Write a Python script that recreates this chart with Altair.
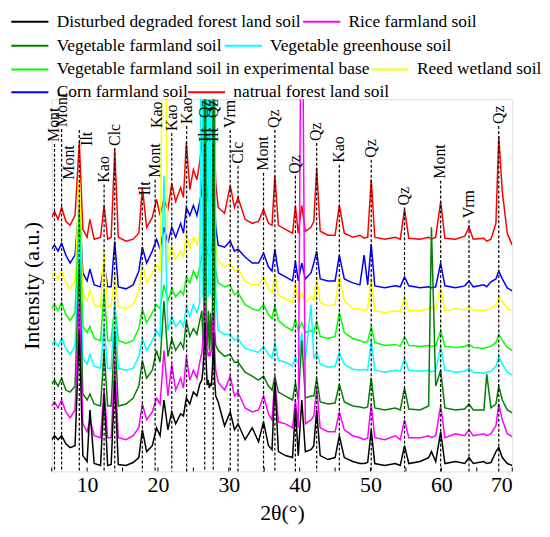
import altair as alt
import pandas as pd

# ---------------- data ----------------
two_theta = [
    5.0, 5.4, 5.9, 6.4, 7.0, 7.6, 8.3, 8.9, 9.4, 10.0,
    10.4, 11.0, 11.9, 12.4, 12.9, 13.4, 13.9, 14.4, 15.5, 16.5,
    17.3, 17.8, 18.4, 19.2, 19.8, 20.3, 20.85, 21.4, 21.95, 22.5,
    23.2, 23.6, 24.0, 24.5, 25.0, 25.5, 25.9,
    26.2, 26.35, 26.5, 26.65, 26.8, 26.95, 27.1, 27.25, 27.4, 27.55, 27.7, 27.85, 28.0, 28.15,
    28.5, 29.4, 30.2, 30.8, 31.3, 32.3, 33.3, 34.2, 34.9, 35.6,
    36.1, 36.5, 37.0, 38.0, 39.0, 39.4, 39.8, 40.3, 40.8, 41.6,
    42.0, 42.4, 42.9, 44.0, 45.0, 45.6, 46.3, 47.5, 48.5, 49.1,
    49.6, 50.1, 50.6, 52.0, 53.5, 54.2, 54.8, 55.4, 57.0, 58.2,
    58.6, 59.2, 59.9, 60.5, 62.0, 63.3, 63.9, 64.5, 66.0, 66.4,
    67.0, 67.7, 68.1, 68.6, 69.3, 70.0,
]

natural_forest = [
    256, 262, 254, 266, 252, 248, 258, 332, 244, 236,
    254, 234, 236, 268, 234, 236, 324, 236, 232, 234,
    240, 286, 246, 256, 274, 258, 274, 264, 290, 272,
    286, 276, 332, 284, 304, 294, 312,
    332, 352, 372, 600, 342, 332, 327, 322, 322, 327, 342, 600, 322, 292,
    266, 260, 288, 266, 276, 254, 250, 252, 264, 250,
    248, 298, 248, 244, 240, 268, 240, 268, 242, 246,
    252, 306, 242, 238, 238, 268, 240, 236, 238, 235,
    236, 294, 236, 234, 236, 234, 264, 235, 234, 236,
    234, 236, 272, 235, 234, 237, 246, 234, 235, 232,
    234, 250, 338, 282, 240, 228,
]
corn = [
    224, 228, 222, 230, 218, 210, 218, 272, 200, 192,
    204, 188, 186, 210, 186, 186, 232, 186, 184, 188,
    202, 226, 210, 222, 234, 224, 246, 230, 246, 236,
    250, 240, 266, 258, 268, 258, 272,
    282, 302, 322, 600, 292, 282, 272, 272, 274, 276, 292, 600, 272, 247,
    228, 226, 232, 222, 224, 216, 210, 210, 220, 206,
    202, 224, 200, 196, 192, 212, 192, 210, 194, 200,
    210, 222, 194, 192, 192, 218, 194, 190, 188, 218,
    188, 229, 187, 185, 187, 186, 196, 187, 185, 186,
    185, 186, 210, 187, 185, 187, 192, 186, 188, 186,
    191, 194, 202, 194, 185, 182,
]
reed = [
    196, 200, 194, 202, 190, 184, 192, 296, 178, 172,
    184, 168, 166, 224, 166, 166, 200, 166, 164, 168,
    182, 210, 190, 200, 208, 202, 600, 210, 226, 214,
    222, 216, 242, 224, 236, 228, 240,
    252, 272, 292, 600, 262, 252, 247, 246, 248, 252, 267, 600, 247, 227,
    212, 206, 210, 202, 204, 192, 188, 188, 196, 184,
    180, 198, 178, 174, 170, 190, 170, 180, 170, 176,
    172, 196, 170, 167, 168, 196, 172, 164, 164, 162,
    164, 195, 162, 160, 162, 161, 176, 162, 162, 164,
    166, 163, 186, 162, 164, 163, 166, 163, 162, 163,
    164, 168, 175, 172, 164, 162,
]
veg_base = [
    164, 168, 162, 170, 158, 152, 160, 262, 146, 140,
    146, 134, 132, 182, 132, 132, 168, 132, 129, 132,
    144, 164, 150, 160, 168, 164, 188, 172, 184, 176,
    182, 178, 196, 190, 202, 194, 206,
    217, 237, 257, 600, 232, 222, 217, 217, 220, 222, 234, 600, 217, 202,
    190, 186, 188, 178, 180, 168, 164, 162, 168, 158,
    154, 168, 152, 146, 142, 154, 142, 150, 140, 142,
    140, 152, 136, 134, 136, 160, 140, 134, 132, 130,
    131, 146, 130, 127, 128, 126, 136, 127, 126, 127,
    126, 127, 142, 126, 125, 126, 128, 125, 124, 125,
    126, 130, 138, 132, 125, 122,
]
greenhouse = [
    127, 132, 126, 134, 124, 118, 126, 236, 114, 108,
    118, 106, 104, 146, 104, 104, 172, 104, 102, 104,
    116, 134, 122, 132, 142, 136, 298, 142, 156, 146,
    152, 146, 166, 156, 168, 160, 170,
    600, 175, 600, 600, 172, 600, 176, 600, 178, 600, 174, 600, 600, 180,
    142, 138, 138, 132, 134, 124, 122, 120, 126, 118,
    114, 130, 112, 110, 106, 116, 108, 140, 112, 168,
    114, 120, 108, 105, 106, 120, 108, 103, 102, 103,
    102, 132, 102, 100, 102, 101, 114, 102, 101, 102,
    100, 102, 126, 102, 100, 101, 104, 100, 99, 100,
    101, 106, 116, 108, 100, 97,
]
vegetable = [
    88, 92, 86, 94, 82, 80, 86, 212, 78, 72,
    78, 68, 66, 122, 66, 66, 142, 66, 68, 74,
    86, 112, 94, 102, 122, 110, 172, 116, 134, 122,
    130, 124, 152, 136, 144, 138, 152,
    162, 132, 164, 600, 152, 127, 162, 122, 160, 124, 164, 600, 142, 127,
    122, 116, 118, 110, 110, 100, 96, 92, 96, 86,
    82, 96, 80, 76, 72, 90, 72, 132, 74, 76,
    76, 94, 70, 68, 69, 88, 70, 66, 65, 64,
    65, 94, 64, 62, 64, 62, 84, 63, 62, 66,
    246, 86, 102, 64, 62, 63, 68, 62, 62, 98,
    64, 68, 86, 72, 62, 59,
]
rice = [
    66, 70, 64, 72, 60, 54, 62, 172, 48, 40,
    52, 36, 34, 84, 34, 34, 112, 34, 32, 36,
    44, 68, 52, 60, 74, 68, 122, 76, 108, 82,
    94, 84, 116, 92, 102, 94, 110,
    120, 132, 152, 170, 142, 122, 116, 120, 116, 124, 142, 160, 122, 102,
    90, 82, 96, 76, 80, 64, 60, 62, 76, 58,
    52, 94, 50, 48, 44, 72, 44, 600, 48, 52,
    56, 84, 44, 40, 40, 60, 42, 36, 34, 32,
    34, 68, 34, 32, 36, 32, 52, 34, 34, 36,
    34, 36, 66, 34, 38, 36, 42, 36, 38, 36,
    38, 46, 68, 52, 38, 35,
]
disturbed = [
    32, 36, 32, 36, 28, 24, 26, 142, 16, 10,
    62, 8, 6, 78, 6, 7, 92, 7, 6, 9,
    14, 42, 20, 26, 44, 36, 72, 42, 60, 48,
    58, 56, 74, 68, 80, 76, 88,
    92, 102, 122, 150, 112, 87, 92, 84, 88, 87, 107, 140, 92, 76,
    70, 46, 60, 42, 48, 32, 44, 30, 50, 26,
    22, 90, 20, 16, 14, 64, 16, 72, 20, 22,
    26, 62, 16, 12, 14, 36, 14, 10, 8, 8,
    9, 42, 8, 6, 8, 6, 26, 8, 10, 14,
    20, 10, 40, 8, 10, 8, 14, 8, 10, 8,
    9, 20, 24, 14, 8, 6,
]

soil_names = [
    "Disturbed degraded forest land soil",
    "Rice farmland soil",
    "Vegetable farmland soil",
    "Vegetable greenhouse soil",
    "Vegetable farmland soil in experimental base",
    "Reed wetland soil",
    "Corn farmland soil",
    "natrual forest land soil",
]
soil_colors = ["#000000", "#FF00FF", "#008000", "#00FFFF",
               "#00FF00", "#FFFF00", "#0000FF", "#FF0000"]
soil_series = [disturbed, rice, vegetable, greenhouse,
               veg_base, reed, corn, natural_forest]

# mineral annotations
label_text = ["Mont", "Mont", "Mont", "Ilt", "Kao", "Clc", "Ilt", "Mont", "Kao",
              "Kao", "Kao", "Ilt", "Qz", "Ilt", "Qz", "Vrm", "Clc", "Mont", "Qz",
              "Qz", "Qz", "Kao", "Qz", "Qz", "Mont", "Vrm", "Qz"]
label_x = [5.4, 6.4, 7.5, 10.0, 12.4, 14.0, 18.2, 19.6, 19.9,
           22.0, 24.1, 26.6, 26.6, 27.8, 27.8, 30.2, 31.3, 34.8, 36.4,
           39.3, 42.3, 45.5, 50.1, 54.7, 59.8, 63.9, 68.1]
label_y = [330, 345, 292, 326, 289, 326, 276, 294, 344,
           341, 348, 330, 354, 330, 354, 344, 308, 301, 344,
           298, 331, 309, 314, 266, 293, 253, 348]

line_x = [5.4, 6.4, 8.9, 12.4, 13.9, 17.8, 19.6, 21.95, 24.05, 26.6, 27.8, 30.2,
          31.3, 34.9, 36.5, 39.4, 42.4, 45.6, 50.1, 54.8, 59.9, 63.9, 68.1]
line_top = [330, 345, 344, 289, 326, 276, 294, 341, 348, 330, 330, 344,
            308, 301, 344, 298, 331, 309, 314, 266, 293, 253, 348]

tick_values = [5, 10, 15, 20, 25, 30, 35, 40, 45, 50, 55, 60, 65, 70]
label_values = [10, 20, 30, 40, 50, 60, 70]

# ---------------- tables ----------------
rows = []
for name, vals in zip(soil_names, soil_series):
    assert len(vals) == len(two_theta), (name, len(vals))
    for x, y in zip(two_theta, vals):
        rows.append({"soil": name, "two_theta": x, "intensity": y})
df = pd.DataFrame(rows)

df_labels = pd.DataFrame({"text": label_text, "x": label_x, "y": label_y})
df_lines = pd.DataFrame({"x": line_x, "top": line_top})
df_ticks = pd.DataFrame({"t": tick_values})

SERIF = "Liberation Serif"
xscale = alt.Scale(domain=[5, 70], nice=False, zero=False)
yscale = alt.Scale(domain=[0, 375], nice=False, zero=False)

x_axis = alt.Axis(values=label_values, ticks=False, domain=False, grid=False,
                  labelFont=SERIF, labelFontSize=22, labelColor="black",
                  labelPadding=3, title="2θ(°)", titleFont=SERIF,
                  titleFontSize=22, titleFontWeight="normal",
                  titleColor="black", titlePadding=7)
y_axis = alt.Axis(labels=False, ticks=False, domain=False, grid=False,
                  title="Intensity (a.u.)", titleFont=SERIF, titleFontSize=22,
                  titleFontWeight="normal", titleColor="black", titlePadding=8)

# legend entry placement (flowing rows like the original), relative to plot
legend_pos = {
    "Disturbed degraded forest land soil": (-34, -90),
    "Rice farmland soil": (260, -90),
    "Vegetable farmland soil": (-34, -66),
    "Vegetable greenhouse soil": (181, -66),
    "Vegetable farmland soil in experimental base": (-34, -42),
    "Reed wetland soil": (329, -42),
    "Corn farmland soil": (-34, -19),
    "natrual forest land soil": (144, -19),
}

def make_legend(name):
    lx, ly = legend_pos[name]
    return alt.Legend(title=None, orient="none", legendX=lx, legendY=ly,
                      symbolType="M-1.7,0L1.7,0", symbolSize=484,
                      symbolStrokeWidth=2, labelFont=SERIF, labelFontSize=17.5,
                      labelColor="black", labelLimit=600, labelOffset=15,
                      padding=0)

draw_order = [7, 6, 5, 4, 3, 2, 1, 0]

line_layers = []
for i in draw_order:
    name = soil_names[i]
    line_layers.append(
        alt.Chart(df).transform_filter(alt.datum.soil == name)
        .mark_line(clip=True, strokeWidth=1.5)
        .encode(
            x=alt.X("two_theta:Q", scale=xscale, axis=x_axis),
            y=alt.Y("intensity:Q", scale=yscale, axis=y_axis),
            color=alt.Color("soil:N",
                            scale=alt.Scale(domain=[name], range=[soil_colors[i]]),
                            legend=make_legend(name)),
        )
    )

dashes = alt.Chart(df_lines).mark_rule(
    color="black", strokeWidth=1.2, strokeDash=[3, 2]
).encode(
    x=alt.X("x:Q", scale=xscale, axis=x_axis),
    y=alt.Y("top:Q", scale=yscale, axis=y_axis),
    y2=alt.value(375),
)

labels = alt.Chart(df_labels).mark_text(
    angle=270, align="left", baseline="middle", dx=2,
    font=SERIF, fontSize=16, color="black"
).encode(
    x=alt.X("x:Q", scale=xscale, axis=x_axis),
    y=alt.Y("y:Q", scale=yscale, axis=y_axis),
    text="text:N",
)

ticks = alt.Chart(df_ticks).mark_rule(color="black", strokeWidth=1).encode(
    x=alt.X("t:Q", scale=xscale, axis=x_axis),
    y=alt.value(375),
    y2=alt.value(371),
)

chart = alt.layer(*line_layers, dashes, labels, ticks).resolve_scale(
    color="independent"
).properties(
    width=464, height=375,
    padding={"left": 10, "top": 0, "right": 0, "bottom": 0},
).configure_view(stroke="black", strokeWidth=1.5).configure(font=SERIF)

chart.save("out.html", embed_options={"renderer": "svg", "actions": False})
